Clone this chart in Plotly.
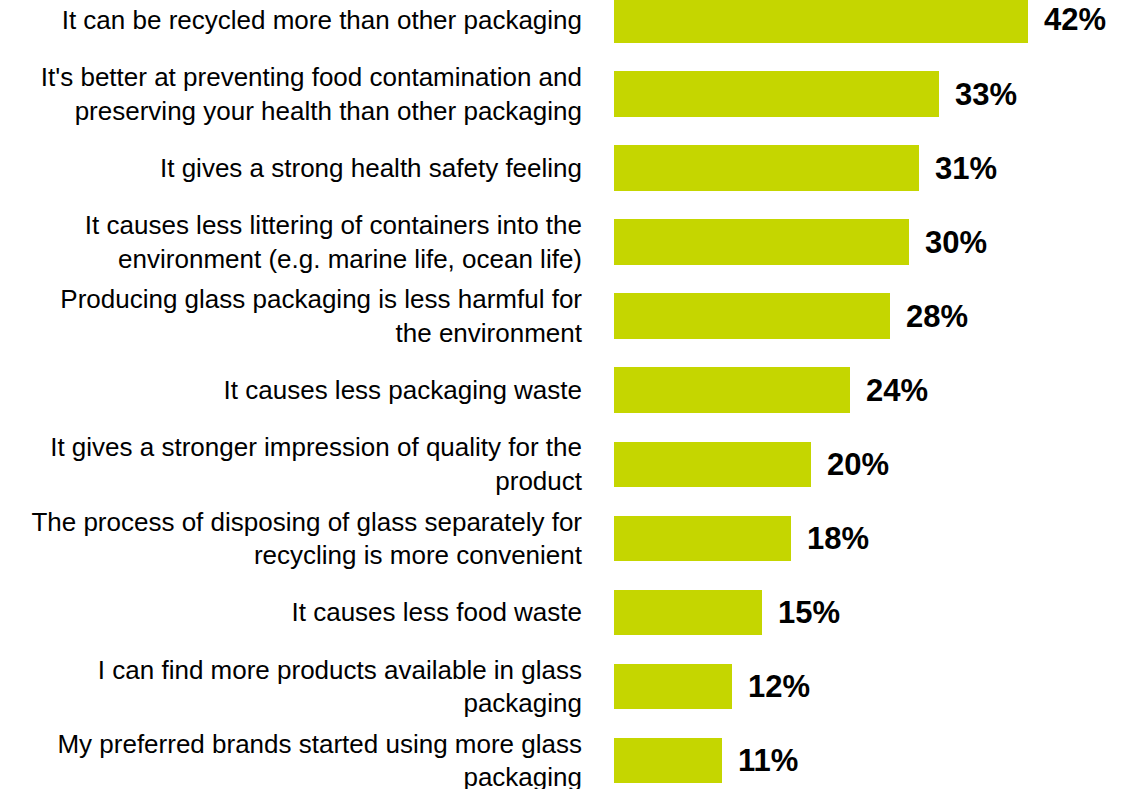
import plotly.graph_objects as go

categories = [
    "It can be recycled more than other packaging",
    "It's better at preventing food contamination and<br>preserving your health than other packaging",
    "It gives a strong health safety feeling",
    "It causes less littering of containers into the<br>environment (e.g. marine life, ocean life)",
    "Producing glass packaging is less harmful for<br>the environment",
    "It causes less packaging waste",
    "It gives a stronger impression of quality for the<br>product",
    "The process of disposing of glass separately for<br>recycling is more convenient",
    "It causes less food waste",
    "I can find more products available in glass<br>packaging",
    "My preferred brands started using more glass<br>packaging",
]
values = [42, 33, 31, 30, 28, 24, 20, 18, 15, 12, 11]

BAR_COLOR = "#C5D600"
FONT = "Liberation Sans, Arial, Helvetica, sans-serif"

fig = go.Figure(
    go.Bar(
        x=values,
        y=categories,
        orientation="h",
        marker=dict(color=BAR_COLOR, line=dict(width=0)),
        width=0.615,
        hoverinfo="skip",
    )
)

for c, v in zip(categories, values):
    fig.add_annotation(
        x=v, y=c, text=f"<b>{v}%</b>", showarrow=False,
        xanchor="left", yanchor="middle", xshift=14,
        font=dict(family=FONT, size=31, color="#000000"),
    )

fig.update_layout(
    width=1132, height=789,
    margin=dict(l=614, r=0, t=0, b=0, autoexpand=False),
    paper_bgcolor="white", plot_bgcolor="white",
    showlegend=False,
    font=dict(family=FONT, size=26, color="#000000"),
    bargap=0,
)
fig.update_xaxes(range=[0, 52.6], visible=False, showgrid=False, zeroline=False,
                 automargin=False)
fig.update_yaxes(
    categoryorder="array", categoryarray=categories,
    range=[10.385, -0.270],
    showgrid=False, zeroline=False, showline=False, ticks="",
    ticklabelstandoff=31, automargin=False,
    tickfont=dict(family=FONT, size=26, color="#000000"),
)

fig.write_html(
    "out.html",
    config={"displayModeBar": False, "staticPlot": True},
    post_script="document.body.style.margin='0';document.body.style.overflow='hidden';",
)
